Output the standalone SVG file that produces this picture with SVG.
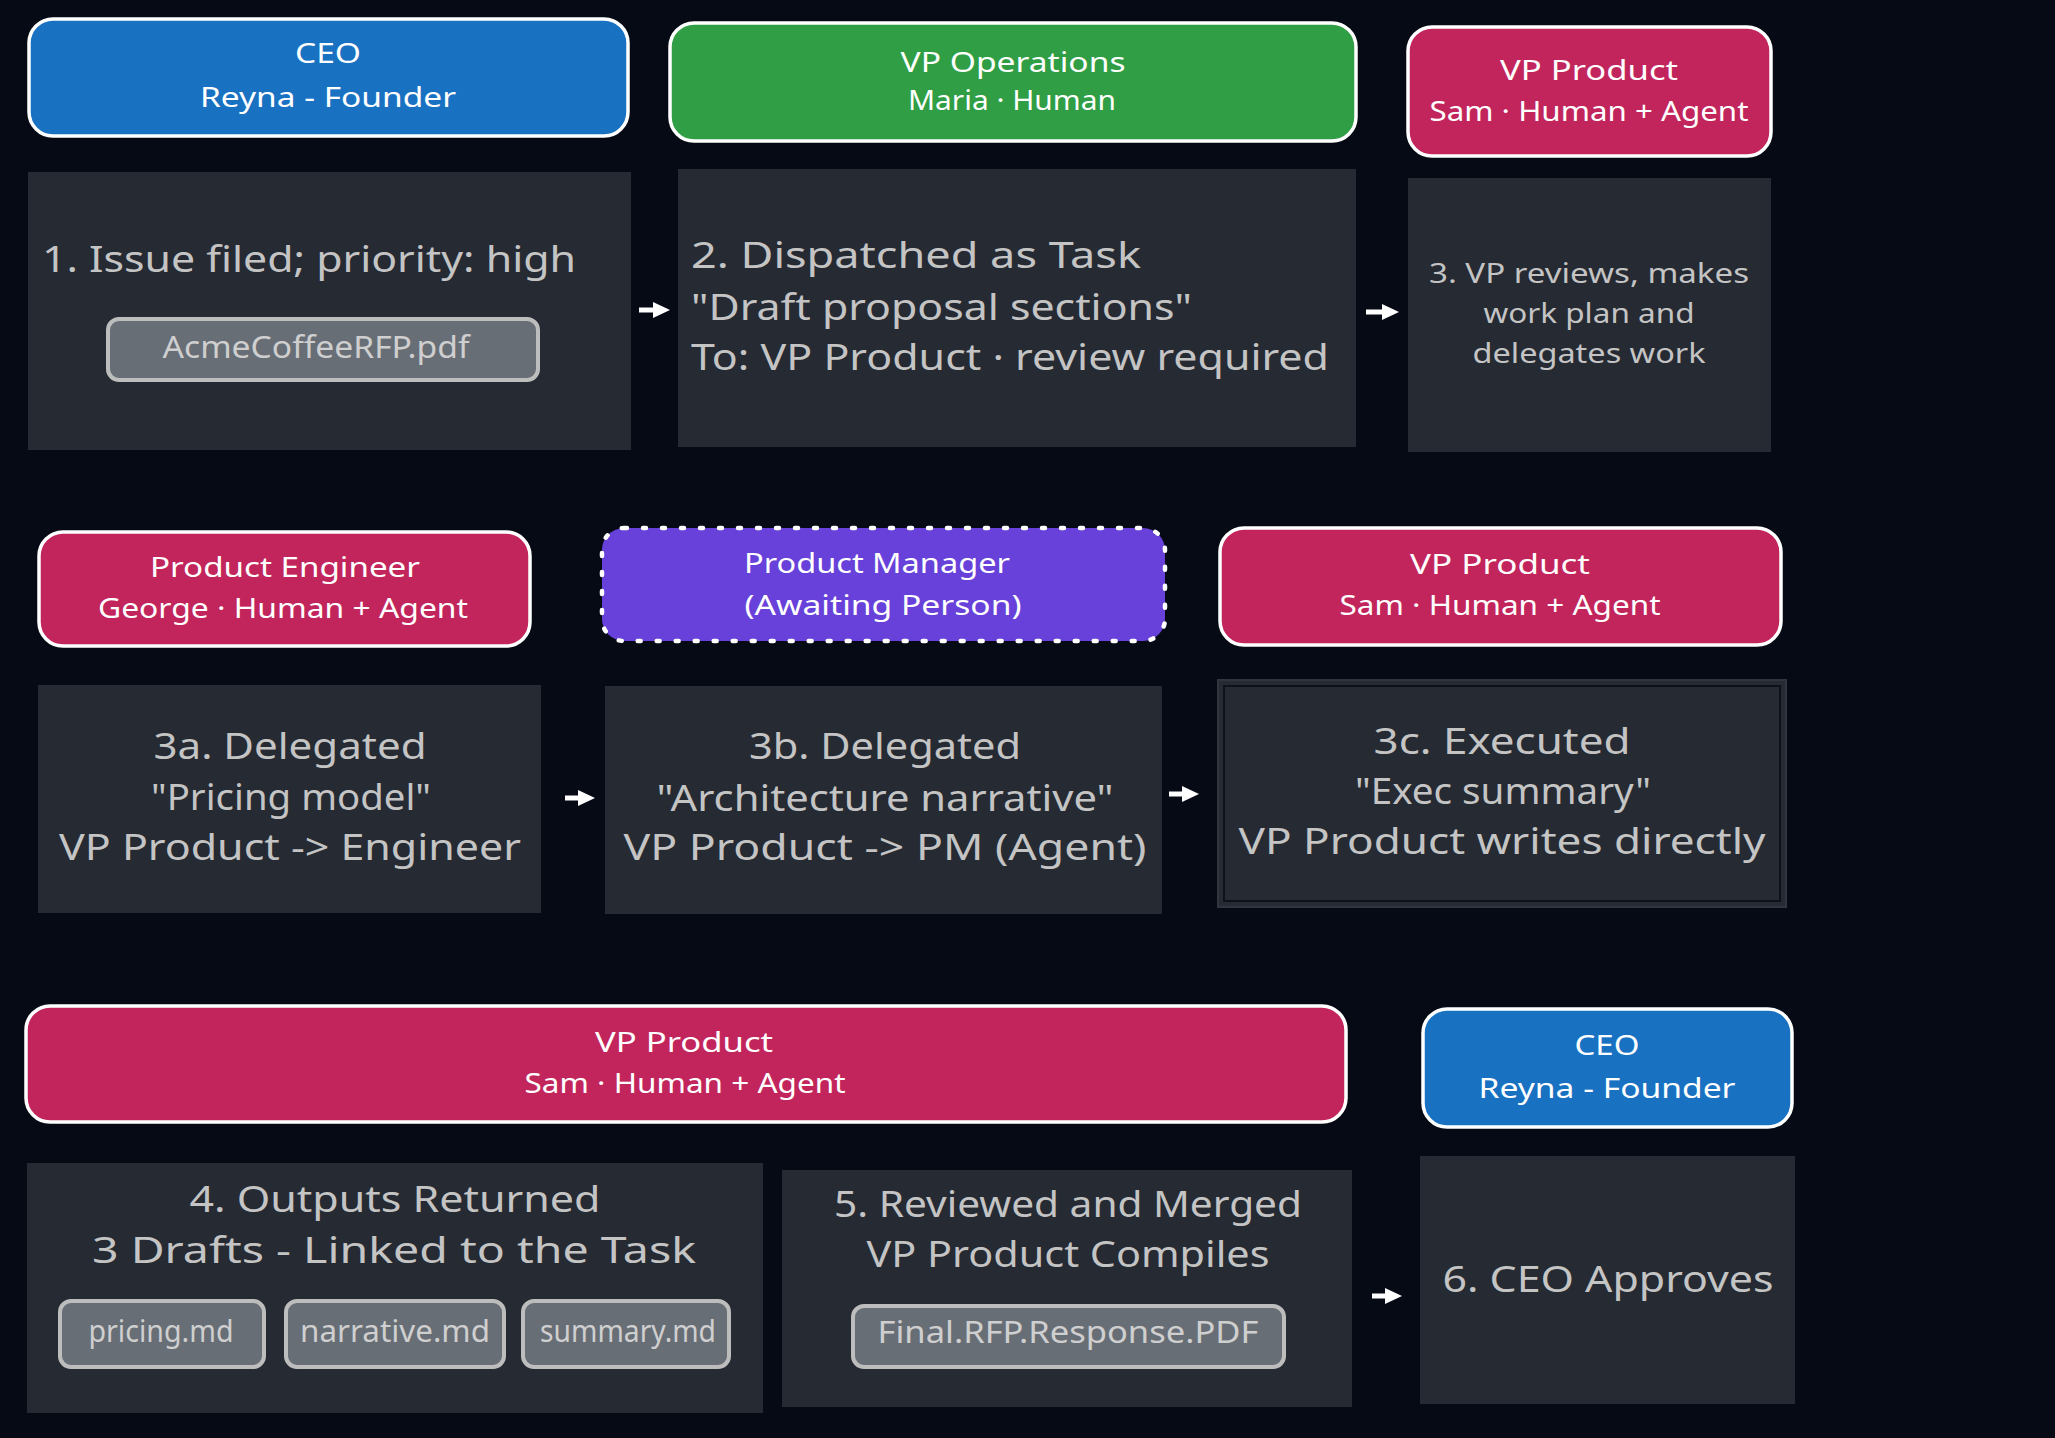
<svg xmlns="http://www.w3.org/2000/svg" width="2055" height="1438" viewBox="0 0 2055 1438">
<defs>
<style>
.bg{fill:#050a15}
.hdr{stroke:#ffffff;stroke-width:3.5}
.blue{fill:#1971c2}
.green{fill:#2f9e44}
.pink{fill:#c2255c}
.violet{fill:#6741d9}
.dots{stroke:#ffffff;stroke-width:4.5;stroke-dasharray:3 16;stroke-linecap:round}
.box{fill:#252a33}
.pill{fill:#686e76;stroke:#bdbdbd;stroke-width:4}
.ht{font-family:"Noto Sans","Liberation Sans",sans-serif;font-size:28px;fill:#ffffff;text-anchor:middle}
.bt{font-family:"Noto Sans","Liberation Sans",sans-serif;font-size:37px;fill:#c4c4c4}
.bts{font-family:"Noto Sans","Liberation Sans",sans-serif;font-size:28px;fill:#c4c4c4;text-anchor:middle}
.pt{font-family:"Noto Sans","Liberation Sans",sans-serif;font-size:31px;fill:#cfcfcf;text-anchor:middle}
.mid{text-anchor:middle}
.conn{stroke:#ffffff;stroke-width:5;fill:none}
</style>
<marker id="ah" markerUnits="userSpaceOnUse" markerWidth="18" markerHeight="18" refX="2" refY="9" orient="auto">
<path d="M0,1 L17,9 L0,17 z" fill="#ffffff"/>
</marker>
</defs>
<rect class="bg" x="0" y="0" width="2055" height="1438"/>

<!-- Row 1 -->
<g id="hdr-ceo-1">
<rect class="hdr blue" x="29" y="19" width="599" height="117" rx="24"/>
<text class="ht" x="328" y="63" textLength="66" lengthAdjust="spacingAndGlyphs">CEO</text>
<text class="ht" x="328" y="107" textLength="256" lengthAdjust="spacingAndGlyphs">Reyna - Founder</text>
</g>
<g id="hdr-vpops">
<rect class="hdr green" x="670" y="23" width="686" height="118" rx="24"/>
<text class="ht" x="1013" y="72" textLength="225" lengthAdjust="spacingAndGlyphs">VP Operations</text>
<text class="ht" x="1012" y="110" textLength="208" lengthAdjust="spacingAndGlyphs">Maria · Human</text>
</g>
<g id="hdr-vpprod-1">
<rect class="hdr pink" x="1408" y="27" width="363" height="129" rx="24"/>
<text class="ht" x="1589" y="80" textLength="178" lengthAdjust="spacingAndGlyphs">VP Product</text>
<text class="ht" x="1589" y="121" textLength="319" lengthAdjust="spacingAndGlyphs">Sam · Human + Agent</text>
</g>
<g id="step-1">
<rect class="box" x="28" y="172" width="603" height="278"/>
<text class="bt" x="42" y="272" textLength="534" lengthAdjust="spacingAndGlyphs">1. Issue filed; priority: high</text>
<rect class="pill" x="108" y="319" width="430" height="61" rx="11"/>
<text class="pt" x="316" y="358" textLength="307" lengthAdjust="spacingAndGlyphs">AcmeCoffeeRFP.pdf</text>
</g>
<g id="step-2">
<rect class="box" x="678" y="169" width="678" height="278"/>
<text class="bt" x="691" y="268" textLength="450" lengthAdjust="spacingAndGlyphs">2. Dispatched as Task</text>
<text class="bt" x="691" y="320" textLength="501" lengthAdjust="spacingAndGlyphs">"Draft proposal sections"</text>
<text class="bt" x="691" y="370" textLength="638" lengthAdjust="spacingAndGlyphs">To: VP Product · review required</text>
</g>
<g id="step-3">
<rect class="box" x="1408" y="178" width="363" height="274"/>
<text class="bts" x="1589" y="283" textLength="320" lengthAdjust="spacingAndGlyphs">3. VP reviews, makes</text>
<text class="bts" x="1589" y="323" textLength="211" lengthAdjust="spacingAndGlyphs">work plan and</text>
<text class="bts" x="1589" y="363" textLength="233" lengthAdjust="spacingAndGlyphs">delegates work</text>
</g>

<!-- Row 2 -->
<g id="hdr-engineer">
<rect class="hdr pink" x="39" y="532" width="491" height="114" rx="24"/>
<text class="ht" x="285" y="577" textLength="270" lengthAdjust="spacingAndGlyphs">Product Engineer</text>
<text class="ht" x="283" y="618" textLength="370" lengthAdjust="spacingAndGlyphs">George · Human + Agent</text>
</g>
<g id="hdr-pm">
<rect class="violet" x="602" y="528" width="563" height="113" rx="22"/>
<rect class="dots" fill="none" x="602" y="528" width="563" height="113" rx="22"/>
<text class="ht" x="877" y="573" textLength="266" lengthAdjust="spacingAndGlyphs">Product Manager</text>
<text class="ht" x="883" y="615" textLength="277" lengthAdjust="spacingAndGlyphs">(Awaiting Person)</text>
</g>
<g id="hdr-vpprod-2">
<rect class="hdr pink" x="1220" y="528" width="561" height="117" rx="24"/>
<text class="ht" x="1500" y="574" textLength="180" lengthAdjust="spacingAndGlyphs">VP Product</text>
<text class="ht" x="1500" y="615" textLength="321" lengthAdjust="spacingAndGlyphs">Sam · Human + Agent</text>
</g>
<g id="step-3a">
<rect class="box" x="38" y="685" width="503" height="228"/>
<text class="bt mid" x="290" y="759" textLength="273" lengthAdjust="spacingAndGlyphs">3a. Delegated</text>
<text class="bt mid" x="291" y="810" textLength="280" lengthAdjust="spacingAndGlyphs">"Pricing model"</text>
<text class="bt mid" x="290" y="860" textLength="462" lengthAdjust="spacingAndGlyphs">VP Product -&gt; Engineer</text>
</g>
<g id="step-3b">
<rect class="box" x="605" y="686" width="557" height="228"/>
<text class="bt mid" x="885" y="759" textLength="272" lengthAdjust="spacingAndGlyphs">3b. Delegated</text>
<text class="bt mid" x="885" y="811" textLength="457" lengthAdjust="spacingAndGlyphs">"Architecture narrative"</text>
<text class="bt mid" x="885" y="860" textLength="523" lengthAdjust="spacingAndGlyphs">VP Product -&gt; PM (Agent)</text>
</g>
<g id="step-3c">
<rect class="box" x="1218" y="680" width="568" height="227" stroke="#30353e" stroke-width="2"/>
<rect x="1224" y="686" width="556" height="215" fill="none" stroke="#0d121a" stroke-width="2"/>
<text class="bt mid" x="1502" y="754" textLength="257" lengthAdjust="spacingAndGlyphs">3c. Executed</text>
<text class="bt mid" x="1503" y="804" textLength="296" lengthAdjust="spacingAndGlyphs">"Exec summary"</text>
<text class="bt mid" x="1502" y="854" textLength="527" lengthAdjust="spacingAndGlyphs">VP Product writes directly</text>
</g>

<!-- Row 3 -->
<g id="hdr-vpprod-3">
<rect class="hdr pink" x="26" y="1006" width="1320" height="116" rx="24"/>
<text class="ht" x="684" y="1052" textLength="178" lengthAdjust="spacingAndGlyphs">VP Product</text>
<text class="ht" x="685" y="1093" textLength="321" lengthAdjust="spacingAndGlyphs">Sam · Human + Agent</text>
</g>
<g id="hdr-ceo-2">
<rect class="hdr blue" x="1423" y="1009" width="369" height="118" rx="24"/>
<text class="ht" x="1607" y="1055" textLength="65" lengthAdjust="spacingAndGlyphs">CEO</text>
<text class="ht" x="1607" y="1098" textLength="257" lengthAdjust="spacingAndGlyphs">Reyna - Founder</text>
</g>
<g id="step-4">
<rect class="box" x="27" y="1163" width="736" height="250"/>
<text class="bt mid" x="395" y="1212" textLength="411" lengthAdjust="spacingAndGlyphs">4. Outputs Returned</text>
<text class="bt mid" x="394" y="1263" textLength="604" lengthAdjust="spacingAndGlyphs">3 Drafts - Linked to the Task</text>
<rect class="pill" x="60" y="1301" width="204" height="66" rx="11"/>
<text class="pt" x="161" y="1342" textLength="145" lengthAdjust="spacingAndGlyphs">pricing.md</text>
<rect class="pill" x="286" y="1301" width="218" height="66" rx="11"/>
<text class="pt" x="395" y="1342" textLength="190" lengthAdjust="spacingAndGlyphs">narrative.md</text>
<rect class="pill" x="523" y="1301" width="206" height="66" rx="11"/>
<text class="pt" x="628" y="1342" textLength="176" lengthAdjust="spacingAndGlyphs">summary.md</text>
</g>
<g id="step-5">
<rect class="box" x="782" y="1170" width="570" height="237"/>
<text class="bt mid" x="1068" y="1217" textLength="468" lengthAdjust="spacingAndGlyphs">5. Reviewed and Merged</text>
<text class="bt mid" x="1068" y="1267" textLength="403" lengthAdjust="spacingAndGlyphs">VP Product Compiles</text>
<rect class="pill" x="853" y="1306" width="431" height="61" rx="11"/>
<text class="pt" x="1068" y="1343" textLength="381" lengthAdjust="spacingAndGlyphs">Final.RFP.Response.PDF</text>
</g>
<g id="step-6">
<rect class="box" x="1420" y="1156" width="375" height="248"/>
<text class="bt mid" x="1608" y="1292" textLength="331" lengthAdjust="spacingAndGlyphs">6. CEO Approves</text>
</g>

<g id="connectors">
<line class="conn" x1="639" y1="310" x2="655" y2="310" marker-end="url(#ah)"/>
<line class="conn" x1="1366" y1="312" x2="1384" y2="312" marker-end="url(#ah)"/>
<line class="conn" x1="565" y1="798" x2="580" y2="798" marker-end="url(#ah)"/>
<line class="conn" x1="1169" y1="794" x2="1184" y2="794" marker-end="url(#ah)"/>
<line class="conn" x1="1372" y1="1296" x2="1387" y2="1296" marker-end="url(#ah)"/>
</g>
</svg>
